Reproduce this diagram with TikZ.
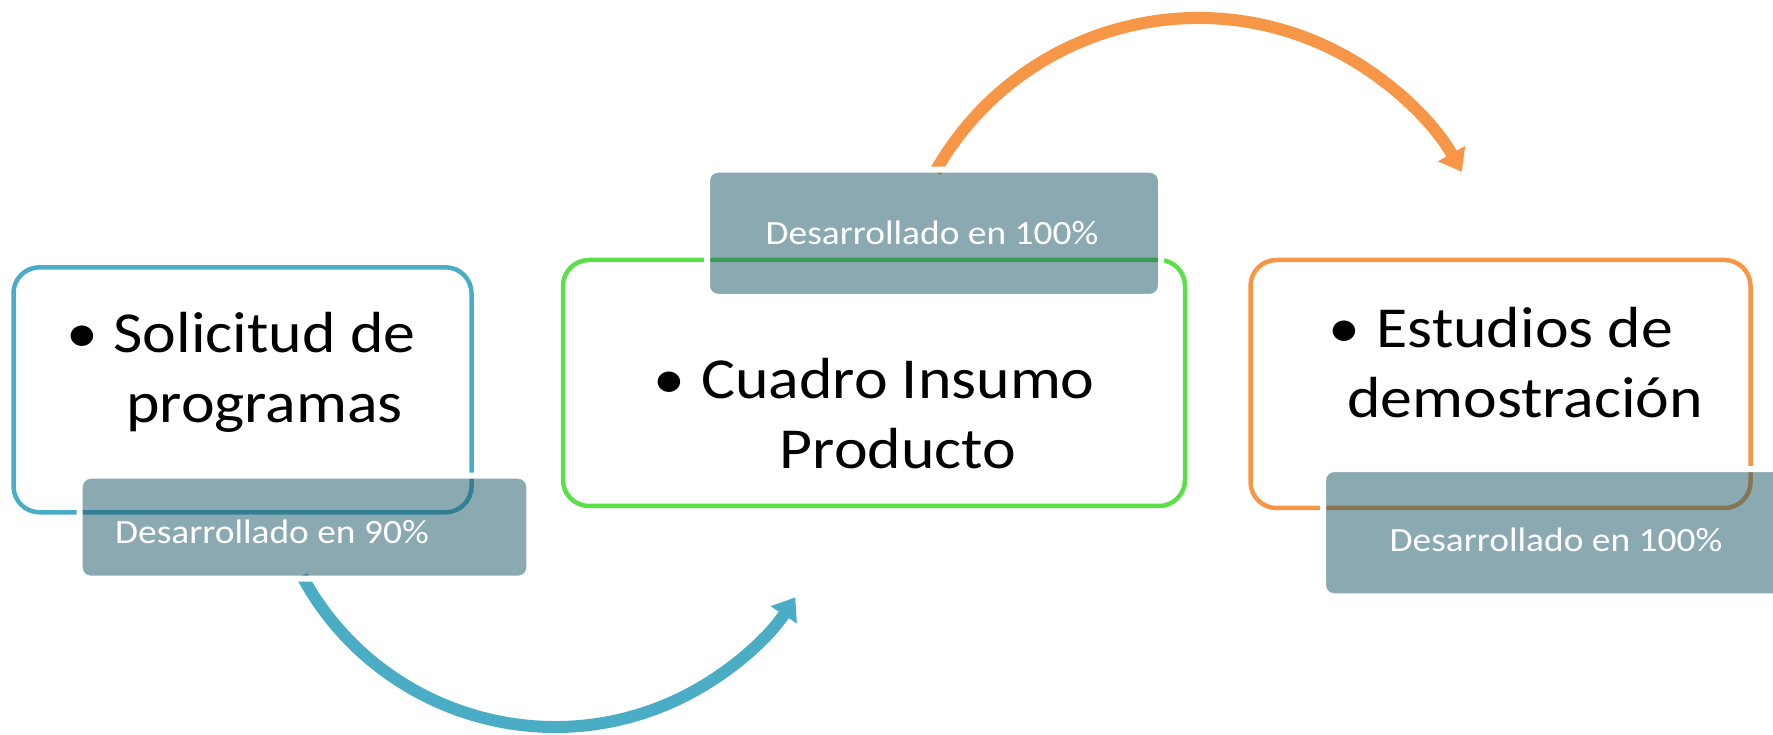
\documentclass[tikz,border=0pt]{standalone}
\usepackage{fontspec}
\setmainfont[FakeStretch=1.1]{Carlito}
\usetikzlibrary{arrows.meta}
\definecolor{boxblue}{RGB}{75,172,198}
\definecolor{boxgreen}{RGB}{92,224,74}
\definecolor{boxorange}{RGB}{247,150,70}
\definecolor{tagfill}{RGB}{30,88,103}

\begin{document}
\begin{tikzpicture}[x=1pt,y=1pt]
  \tikzstyle{box}=[draw, line width=4.5pt, rounded corners=26pt, inner sep=0pt]
  \tikzstyle{tag}=[fill=tagfill, fill opacity=0.515, draw=white, line width=6pt, rounded corners=11pt, inner sep=0pt]
  \tikzstyle{item}=[anchor=base, align=center, inner sep=0pt, font=\fontsize{58}{70}\selectfont]
  \tikzstyle{note}=[anchor=base, inner sep=0pt, text=white, font=\fontsize{34}{41}\selectfont]
  \tikzstyle{curve}=[line width=12pt, -{Triangle[length=21pt, width=30pt]}]

  \path[use as bounding box] (0,0) rectangle (1773,735);
  \clip (0,0) rectangle (1773,735);

  \coordinate (A_1) at (302,159);
  \coordinate (A_2) at (935.1,563.1);
  \draw[curve, boxblue] (A_1) arc[start angle=208.35, end angle=326.7, radius=287.5];
  \draw[curve, boxorange] (A_2) arc[start angle=150.6, end angle=29.4, radius=302.3];

  \node[box, draw=boxblue, minimum width=458pt, minimum height=245pt] (B_1) at (242.5,345.2) {};
  \node[box, draw=boxgreen, minimum width=622pt, minimum height=246pt] (B_2) at (874,352) {};
  \node[box, draw=boxorange, minimum width=500pt, minimum height=248pt] (B_3) at (1500.5,351) {};

  \node[item] (P_1) at (82,382) {\textbullet};
  \node[item] (T_1) at (264.6,312) {Solicitud de\\programas};
  \node[item] (P_2) at (669.4,336) {\textbullet};
  \node[item] (T_2) at (898,266) {Cuadro Insumo\\Producto};
  \node[item] (P_3) at (1344.3,387) {\textbullet};
  \node[item] (T_3) at (1525,317) {Estudios de\\demostración};

  \node[tag, minimum width=449.7pt, minimum height=103pt] (L_1) at (304.5,207.8) {};
  \node[tag, minimum width=454pt, minimum height=127.3pt] (L_2) at (934,501.7) {};
  \node[tag, minimum width=466pt, minimum height=127.3pt] (L_3) at (1556,202.3) {};

  \node[note] (N_1) at (272,191.7) {Desarrollado en 90\%};
  \node[note] (N_2) at (932,490.7) {Desarrollado en 100\%};
  \node[note] (N_3) at (1556,183.3) {Desarrollado en 100\%};
\end{tikzpicture}
\end{document}
